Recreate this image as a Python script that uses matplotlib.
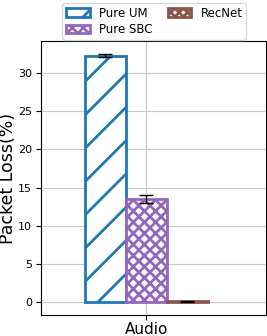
import numpy as np
import matplotlib
matplotlib.use("Agg")
import matplotlib.pyplot as plt

methods = ['Pure UM', 'Pure SBC', 'RecNet']
category = 'Audio'
loss = [32.3, 13.5, 0.1]
err = [0.25, 0.5, 0.08]

colors = ['tab:blue', 'tab:purple', 'tab:brown']
hatches = ['/', 'xxx', 'xxxx']

plt.rcParams['hatch.linewidth'] = 2.0
fig = plt.figure(figsize=(2.67, 3.36), dpi=100)
ax = fig.add_axes([0.152, 0.062, 0.844, 0.816])

w = 0.25
for i, m in enumerate(methods):
    ax.bar((i - 1) * w, loss[i], w, yerr=err[i], capsize=5,
           facecolor='white', edgecolor=colors[i], hatch=hatches[i],
           linewidth=2, label=m, error_kw=dict(elinewidth=1, capthick=1))

ax.set_xlim(-0.646, 0.73)
ax.set_ylim(-1.7, 34.2)
ax.set_xticks([0])
ax.set_xticklabels([category], fontsize=11)
ax.tick_params(axis='x', pad=1.5)
ax.set_yticks([0, 5, 10, 15, 20, 25, 30])
ax.tick_params(axis='y', labelsize=8, pad=2.5)
ax.set_ylabel('Packet Loss(%)', fontsize=12.5, labelpad=1)
ax.grid(True, color='#c8c8c8', linewidth=0.8)
ax.set_axisbelow(True)
ax.legend(ncol=2, loc='lower center', bbox_to_anchor=(0.505, 1.0),
          fontsize=8.5, columnspacing=1.3, handlelength=2.0,
          borderpad=0.3, labelspacing=0.3, borderaxespad=0.1)
fig.savefig('out.png')
